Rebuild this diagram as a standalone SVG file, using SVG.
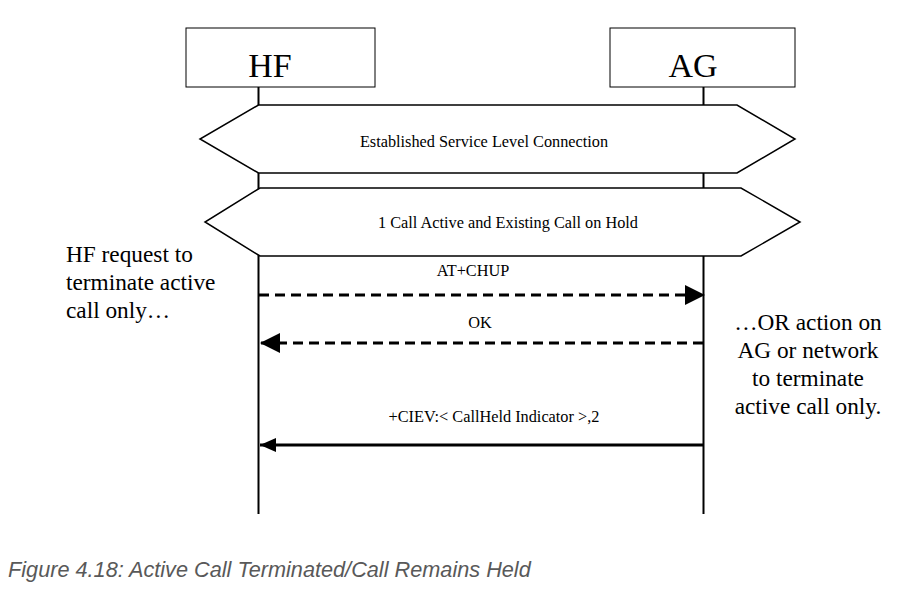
<svg xmlns="http://www.w3.org/2000/svg" width="918" height="595" viewBox="0 0 918 595">
<defs>
<style>
.box{fill:#fff;stroke:#000;stroke-width:1}
.life{stroke:#000;stroke-width:2;fill:none}
.hex{fill:#fff;stroke:#000;stroke-width:1.5}
.t{font-family:"Liberation Serif","Times New Roman",serif;fill:#000}
.name{font-size:34px;text-anchor:middle}
.lbl{font-size:16.3px;text-anchor:middle}
.note{font-size:23.3px}
.msg{stroke:#000;stroke-width:3;fill:none}
.dash{stroke-dasharray:10 6}
.cap{font-family:"Liberation Sans",Arial,sans-serif;font-style:italic;font-size:21.7px;fill:#595959}
</style>
<marker id="ah" viewBox="0 0 20 20" refX="20" refY="10" markerWidth="20" markerHeight="20" markerUnits="userSpaceOnUse" orient="auto">
<path d="M0,0 L20,10 L0,20 Z" fill="#000"/>
</marker>
<marker id="ah2" viewBox="0 0 16 14" refX="16" refY="7" markerWidth="16" markerHeight="14" markerUnits="userSpaceOnUse" orient="auto">
<path d="M0,0 L16,7 L0,14 Z" fill="#000"/>
</marker>
</defs>
<rect width="918" height="595" fill="#fff"/>
<g id="HF">
<rect class="box" x="186" y="28" width="189" height="59"/>
<text class="t name" x="270" y="77">HF</text>
<line class="life" x1="258.5" y1="87" x2="258.5" y2="514"/>
</g>
<g id="AG">
<rect class="box" x="610" y="28" width="185" height="59"/>
<text class="t name" x="693" y="77">AG</text>
<line class="life" x1="703.5" y1="87" x2="703.5" y2="514"/>
</g>
<g id="SLC">
<polygon class="hex" points="258.5,105 737,105 795,139 737,173 258.5,173 200,139"/>
<text class="t lbl" x="484" y="147">Established Service Level Connection</text>
</g>
<g id="CallState">
<polygon class="hex" points="260,188 741,188 800,222 741,256 260,256 205,222"/>
<text class="t lbl" x="508" y="228">1 Call Active and Existing Call on Hold</text>
</g>
<g id="NoteHF">
<text class="t note" x="66" y="262">HF request to</text>
<text class="t note" x="66" y="290">terminate active</text>
<text class="t note" x="66" y="318">call only…</text>
</g>
<g id="NoteAG">
<text class="t note" x="808" y="330" text-anchor="middle">…OR action on</text>
<text class="t note" x="808" y="358" text-anchor="middle">AG or network</text>
<text class="t note" x="808" y="386" text-anchor="middle">to terminate</text>
<text class="t note" x="808" y="414" text-anchor="middle">active call only.</text>
</g>
<g id="connectors">
<line class="msg dash" x1="259" y1="295" x2="705" y2="295" marker-end="url(#ah)"/>
<text class="t lbl" x="473" y="276">AT+CHUP</text>
<line class="msg dash" x1="703" y1="343" x2="260" y2="343" marker-end="url(#ah)"/>
<text class="t lbl" x="480" y="328">OK</text>
<line class="msg" x1="703" y1="445" x2="260" y2="445" marker-end="url(#ah2)"/>
<text class="t lbl" x="494" y="422">+CIEV:&lt; CallHeld Indicator &gt;,2</text>
</g>
<text class="cap" x="8" y="577">Figure 4.18: Active Call Terminated/Call Remains Held</text>
</svg>
